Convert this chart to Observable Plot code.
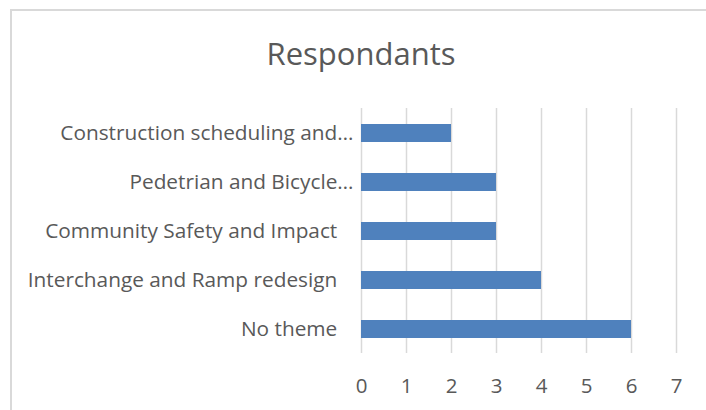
<!DOCTYPE html>
<html>
<head>
<meta charset="utf-8">
<script src="https://cdn.jsdelivr.net/npm/d3@7"></script>
<script src="https://cdn.jsdelivr.net/npm/@observablehq/plot@0.6"></script>
<style>
  html, body { margin: 0; padding: 0; background: #fff; }
  #wrap { position: relative; width: 706px; height: 410px; overflow: hidden; font-family: "Open Sans", sans-serif; }
  #frame { position: absolute; left: 10px; top: 9px; width: 720px; height: 420px; border-left: 2px solid #d9d9d9; border-top: 2px solid #d9d9d9; box-sizing: border-box; }
  #title { position: absolute; left: 0; width: 722px; top: 33px; text-align: center; font-size: 31px; color: #595959; line-height: 40px; }
  #chart { position: absolute; left: 0; top: 80px; }
  #chart svg text { white-space: pre; }
</style>
</head>
<body>
<div id="wrap">
  <div id="frame"></div>
  <div id="title">Respondants</div>
  <div id="chart"></div>
</div>
<script>
const categories = [
  "Construction scheduling and…",
  "Pedetrian and Bicycle…",
  "Community Safety and Impact",
  "Interchange and Ramp redesign",
  "No theme"
];
const values = [2, 3, 3, 4, 6];
const xTicks = [0, 1, 2, 3, 4, 5, 6, 7];

const data = categories.map((c, i) => ({category: c, value: values[i]}));

const chart = Plot.plot({
  width: 706,
  height: 330,
  marginLeft: 361,
  marginRight: 30,
  marginTop: 28,
  marginBottom: 57,
  style: {fontFamily: "Open Sans, sans-serif", color: "#595959", background: "transparent"},
  x: {domain: [0, 7], ticks: xTicks, label: null},
  y: {domain: categories, label: null, paddingInner: 0.64, paddingOuter: 0.32},
  marks: [
    Plot.gridX(xTicks, {stroke: "#d9d9d9", strokeOpacity: 1, strokeWidth: 1.5}),
    Plot.barX(data, {x: "value", y: "category", fill: "#4f81bd"}),
    Plot.axisX({ticks: xTicks, tickSize: 0, tickPadding: 25, fontSize: 20.5, fill: "#595959", label: null,
      tickFormat: d => String(d)}),
    Plot.axisY({tickSize: 0, tickPadding: 8, fontSize: 20.8, fill: "#595959", label: null,
      tickFormat: d => d.endsWith("…") ? d : d + "\u00a0\u00a0\u00a0"})
  ]
});
document.getElementById("chart").appendChild(chart);
</script>
</body>
</html>
